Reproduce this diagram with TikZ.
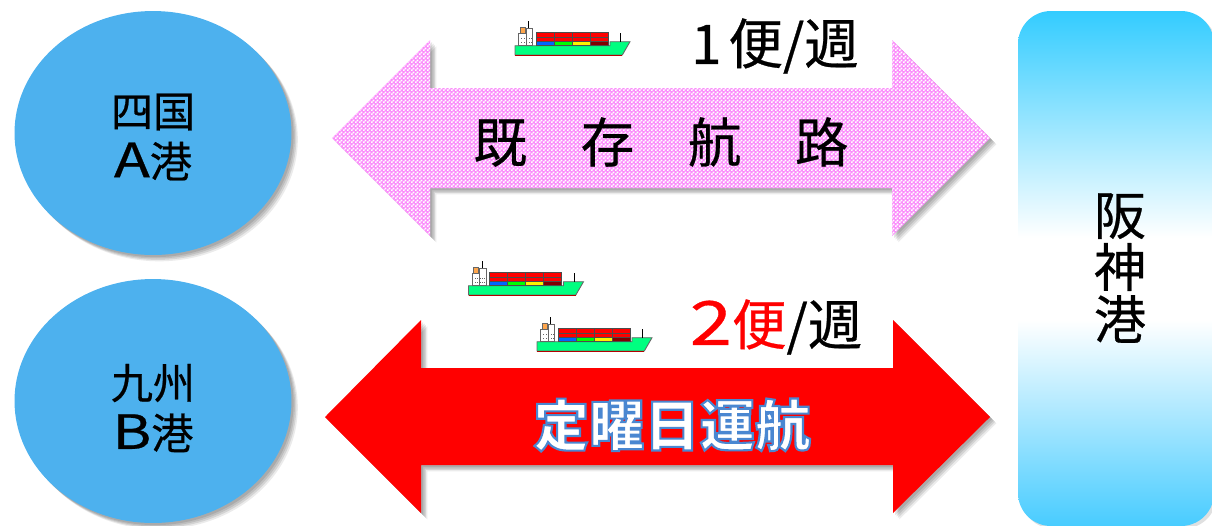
\documentclass[tikz,border=0pt]{standalone}
\usepackage{fontspec}
\setmainfont{Noto Sans CJK JP}
\newfontfamily\marufont[FakeBold=0.5]{Noto Sans CJK JP}
\usetikzlibrary{shapes.geometric}
\usetikzlibrary{shadows}
\usetikzlibrary{patterns}
\definecolor{portc}{HTML}{4DB1EE}
\definecolor{dotc}{HTML}{FB8CFB}
\definecolor{hullc}{HTML}{00FF80}
\definecolor{fadetopc}{HTML}{33CCFF}
\definecolor{fadelowc}{HTML}{48CCFF}
\newcommand{\widelatin}[1]{\scalebox{1.4}[1.12]{#1}}
\pgfdeclarepatternformonly{checker}{\pgfpointorigin}{\pgfpoint{2.3pt}{2.3pt}}{\pgfpoint{2.3pt}{2.3pt}}{
  \pgfpathrectangle{\pgfpointorigin}{\pgfpoint{1.15pt}{1.15pt}}
  \pgfpathrectangle{\pgfpoint{1.15pt}{1.15pt}}{\pgfpoint{1.15pt}{1.15pt}}
  \pgfusepath{fill}
}
\pgfdeclareverticalshading{portfade}{100bp}{color(0bp)=(fadelowc); color(25bp)=(fadelowc); color(45bp)=(white); color(53bp)=(white); color(75bp)=(fadetopc); color(100bp)=(fadetopc)}
\tikzset{
  softshadow/.style={
    general shadow={fill=black,opacity=.10,shadow xshift=1.2pt,shadow yshift=-1.2pt},
    general shadow={fill=black,opacity=.10,shadow xshift=2.0pt,shadow yshift=-2.0pt},
    general shadow={fill=black,opacity=.10,shadow xshift=2.8pt,shadow yshift=-2.8pt},
    general shadow={fill=black,opacity=.08,shadow xshift=3.6pt,shadow yshift=-3.6pt}},
  portcircle/.style={ellipse,softshadow,fill=portc,minimum width=5.54cm,minimum height=4.88cm,inner sep=0pt},
  portlabel/.style={align=center,font=\marufont\fontsize{24}{28.5}\selectfont},
  freqlabel/.style={font=\marufont\fontsize{31}{36}\selectfont},
  pic box/.style={draw=black!60,line width=0.3pt},
  pics/ship/.style={code={
    \draw[draw=black!60,fill=hullc,line width=0.5pt] (0,0) -- (0,-9.3) -- (95,-9.3) -- (95,-13.3) -- (115,-13.3) -- (107.3,0) -- cycle;
    \draw[red!70!black,line width=0.4pt] (0,0) -- (107.3,0);
    \draw[black,line width=0.4pt] (105.5,-13.3) -- (105.5,-22);
    \draw[black,line width=0.4pt] (13.5,-27) -- (13.5,-34);
    \filldraw[pic box,fill=white] (11,-9.3) rectangle (17.5,-27);
    \filldraw[pic box,fill=white] (3.5,-9.3) rectangle (11,-21.5);
    \filldraw[pic box,fill=orange!70] (5,-21.5) rectangle (10,-28);
    \foreach \wx in {6,8.5,11,13.5,15.5}{
      \fill[black!60] (\wx,-12.3) rectangle (\wx+1,-13.3);
      \fill[black!60] (\wx,-16.3) rectangle (\wx+1,-17.3);
    }
    \foreach \col/\lowc in {0/blue!60!cyan,1/green,2/yellow,3/red!50!black}{
      \fill[red] (21+18*\col,-18) rectangle (39+18*\col,-22.3);
      \fill[red] (21+18*\col,-13.7) rectangle (39+18*\col,-18);
      \fill[\lowc] (21+18*\col,-9.3) rectangle (39+18*\col,-13.7);
      \draw[black!70,line width=0.5pt] (21+18*\col,-9.3) rectangle (39+18*\col,-22.3);
    }
    \draw[black!70,line width=0.4pt] (21,-18) -- (93,-18);
    \draw[black!70,line width=0.4pt] (21,-13.7) -- (93,-13.7);
  }}
}

\begin{document}
\begin{tikzpicture}[x=0.02cm,y=-0.02cm]
        \useasboundingbox (0,0) rectangle (1212,525);

        \node[portcircle] (portA) at (153,133) {};
        \node[portcircle] (portB) at (153,401) {};
        \node[portlabel] (portAname) at (153,137) {四国\\\widelatin{A}港};
        \node[portlabel] (portBname) at (153,408) {九州\\\widelatin{B}港};

        \draw[draw=none,softshadow,preaction={fill=dotc},pattern=checker,pattern color=white]
        (332,138) -- (430,40) -- (430,88) -- (892,88) -- (892,40) -- (990,138) -- (892,236) -- (892,188) -- (430,188) -- (430,236) -- cycle;
        \draw[draw=none,softshadow,fill=red]
        (325,417) -- (421,320) -- (421,368) -- (893,368) -- (893,320) -- (990,417) -- (893,513) -- (893,465) -- (421,465) -- (421,513) -- cycle;

        \path[rounded corners=0.66cm,general shadow={fill=black,opacity=.12,shadow xshift=1.5pt,shadow yshift=-1.5pt},shading=portfade]
        (1018,11) rectangle (1214,526);
        \node[align=center,inner sep=0pt,font=\marufont\fontsize{29.6}{29.6}\selectfont] (hanshin) at (1120,268) {阪\\神\\港};

        \node[font=\marufont\fontsize{30.5}{36}\selectfont] (existing) at (661,142) {既　存　航　路};
        \node[font=\fontsize{31.5}{36}\bfseries,text=white] (fixedday) at (672,425)
        {\special{pdf:code 2 Tr 1.2 w 0.29 0.53 0.82 RG}定曜日運航\special{pdf:code 0 Tr}};

        \node[freqlabel] (freqA) at (775,46) {1\hspace{4pt}便/週};
        \node[freqlabel] (freqB) at (776,327) {\textcolor{red}{\widelatin{2}便}/週};

        \pic (shipA) at (515,55) {ship};
        \pic (shipB) at (468.5,295) {ship};
        \pic (shipC) at (537,351) {ship};

        \end{tikzpicture}
\end{document}
